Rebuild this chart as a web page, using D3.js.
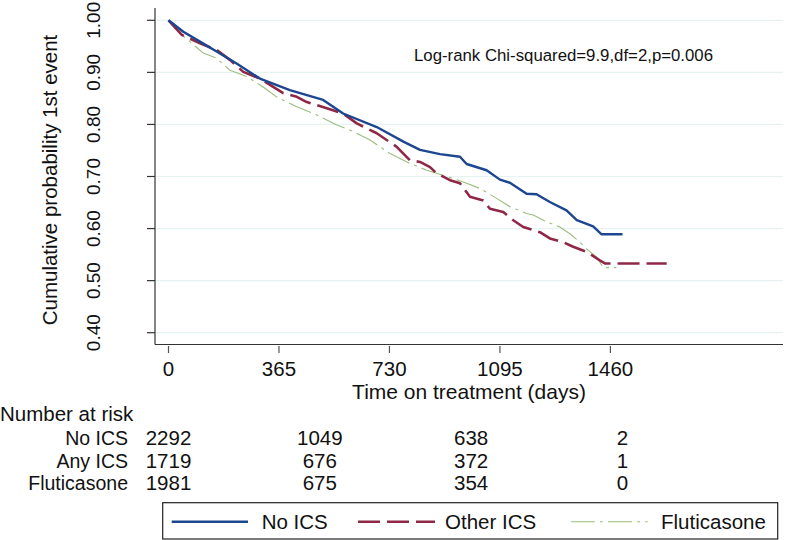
<!DOCTYPE html>
<html><head><meta charset="utf-8">
<script src="https://cdn.jsdelivr.net/npm/d3@7"></script>
<style>body{margin:0;background:#fff}svg{display:block}text{font-family:"Liberation Sans",Arial,sans-serif;fill:#111}</style>
</head><body><svg id="c" width="786" height="540"></svg>
<script>
// ---- data ----
const yTicks = [0.4, 0.5, 0.6, 0.7, 0.8, 0.9, 1.0];
const xTicks = [0, 365, 730, 1095, 1460];
const seriesNames = ["No ICS", "Other ICS", "Fluticasone"];
const noIcsT = [0,49,104,159,225,302,401,511,577,688,776,831,897,963,985,1051,1095,1128,1183,1216,1260,1315,1349,1403,1431,1500];
const noIcsS = [1,.978,.959,.940,.917,.888,.866,.847,.821,.795,.767,.751,.743,.738,.724,.712,.694,.688,.667,.666,.651,.635,.616,.604,.589,.589];
const otherT = [0,44,104,159,203,247,302,346,379,424,457,523,577,622,688,754,798,831,864,886,930,963,996,1040,1062,1106,1139,1172,1227,1260,1304,1337,1382,1425,1442,1646];
const otherS = [1,.972,.956,.943,.924,.901,.888,.872,.860,.853,.843,.831,.821,.802,.783,.757,.731,.728,.718,.706,.693,.687,.661,.654,.638,.632,.616,.603,.593,.581,.574,.565,.555,.539,.533,.533];
const flutT = [0,38,71,115,159,203,258,313,357,424,490,556,600,666,732,798,853,941,985,1029,1084,1128,1183,1205,1249,1293,1326,1359,1387,1415,1436,1480];
const flutS = [1,.975,.959,.937,.927,.904,.892,.872,.853,.834,.818,.799,.789,.770,.744,.725,.712,.696,.687,.677,.658,.642,.629,.626,.613,.603,.590,.574,.558,.545,.525,.525];
const riskTimes = [0, 500, 1000, 1500];
const riskLabels = ["No ICS", "Any ICS", "Fluticasone"];
const riskNoIcs = [2292, 1049, 638, 2];
const riskAny = [1719, 676, 372, 1];
const riskFlut = [1981, 675, 354, 0];
const annotation = "Log-rank Chi-squared=9.9,df=2,p=0.006";

// ---- layout ----
const svg = d3.select("#c");
const x = d3.scaleLinear().domain([0, 1460]).range([168.5, 610.4]);
const y = d3.scaleLinear().domain([0.4, 1]).range([332.7, 20.3]);
const frame = {left:155, right:783, top:8, bottom:344.5};
const colors = ["#1d4690", "#8e2846", "#9dbd7e"];
const widths = [2.4, 2.6, 1.1];
const dashes = [null, "22,7", "24,5,3,5"];

// gridlines
svg.append("g").selectAll("line").data(yTicks).join("line")
  .attr("x1", frame.left).attr("x2", frame.right)
  .attr("y1", d=>y(d)).attr("y2", d=>y(d))
  .attr("stroke", "#e6f3f3").attr("stroke-width", 1.2);

// axes lines
svg.append("line").attr("x1",frame.left).attr("x2",frame.left).attr("y1",frame.top).attr("y2",frame.bottom).attr("stroke","#333").attr("stroke-width",1.2);
svg.append("line").attr("x1",frame.left).attr("x2",frame.right).attr("y1",frame.bottom).attr("y2",frame.bottom).attr("stroke","#333").attr("stroke-width",1.2);

// y ticks
const gy = svg.append("g");
gy.selectAll("line").data(yTicks).join("line")
  .attr("x1",147).attr("x2",frame.left).attr("y1",d=>y(d)).attr("y2",d=>y(d))
  .attr("stroke","#333").attr("stroke-width",1.2);
gy.selectAll("text").data(yTicks).join("text")
  .attr("transform", d=>`translate(100,${y(d)}) rotate(-90)`)
  .attr("text-anchor","middle").attr("font-size",19)
  .text(d=>d3.format(".2f")(d));

// x ticks
const gx = svg.append("g");
gx.selectAll("line").data(xTicks).join("line")
  .attr("x1",d=>x(d)).attr("x2",d=>x(d)).attr("y1",346).attr("y2",353)
  .attr("stroke","#555").attr("stroke-width",1.2);
gx.selectAll("text").data(xTicks).join("text")
  .attr("x",d=>x(d)).attr("y",376).attr("text-anchor","middle").attr("font-size",20.5)
  .text(d=>d);

// axis titles
svg.append("text").attr("transform","translate(57,180) rotate(-90)").attr("text-anchor","middle")
  .attr("font-size",20.5).text("Cumulative probability 1st event");
svg.append("text").attr("x",(frame.left+frame.right)/2).attr("y",399).attr("text-anchor","middle")
  .attr("font-size",21).text("Time on treatment (days)");

// annotation
svg.append("text").attr("x",414).attr("y",61).attr("font-size",16.8).text(annotation);

// curves
const series = [
  {t:noIcsT, s:noIcsS},
  {t:otherT, s:otherS},
  {t:flutT, s:flutS}
];
const line = d3.line().x(d=>x(d[0])).y(d=>y(d[1])).curve(d3.curveLinear);
[2,1,0].forEach(i=>{
  const pts = series[i].t.map((t,k)=>[t, series[i].s[k]]);
  svg.append("path").attr("d", line(pts)).attr("fill","none")
    .attr("stroke", colors[i]).attr("stroke-width", widths[i])
    .attr("stroke-dasharray", dashes[i]).attr("stroke-linejoin","round");
});

// risk table
svg.append("text").attr("x",0).attr("y",421).attr("font-size",20.5).text("Number at risk");
const riskRows = [riskNoIcs, riskAny, riskFlut];
const rowY = [445, 467.5, 490];
riskRows.forEach((row,r)=>{
  svg.append("text").attr("x",128).attr("y",rowY[r]).attr("text-anchor","end").attr("font-size",19.5).text(riskLabels[r]);
  svg.append("g").selectAll("text").data(row).join("text")
    .attr("x",(d,k)=>x(riskTimes[k])).attr("y",rowY[r]).attr("text-anchor","middle").attr("font-size",20.5)
    .text(d=>d);
});

// legend
const lg = svg.append("g");
lg.append("rect").attr("x",162.7).attr("y",502.7).attr("width",615).attr("height",36.3)
  .attr("fill","#fff").attr("stroke","#222").attr("stroke-width",1.2);
const legItems = [
  {x1:171.7, x2:248, tx:261.7},
  {x1:358, x2:435, tx:445},
  {x1:571, x2:647.7, tx:661}
];
legItems.forEach((it,i)=>{
  lg.append("line").attr("x1",it.x1).attr("x2",it.x2).attr("y1",521.7).attr("y2",521.7)
    .attr("stroke",colors[i]).attr("stroke-width",widths[i]).attr("stroke-dasharray",dashes[i]);
  lg.append("text").attr("x",it.tx).attr("y",529).attr("font-size",20.5).text(seriesNames[i]);
});
</script></body></html>
